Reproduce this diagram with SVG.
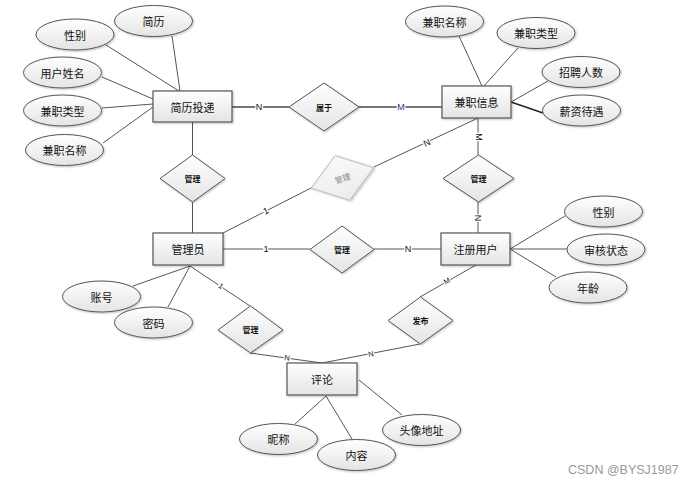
<svg xmlns="http://www.w3.org/2000/svg" width="696" height="483" viewBox="0 0 696 483">
<defs>
<linearGradient id="g" x1="0" y1="0" x2="0" y2="1"><stop offset="0" stop-color="#ffffff"/><stop offset="1" stop-color="#e4e4e4"/></linearGradient>
<linearGradient id="gg" x1="0" y1="0" x2="0" y2="1"><stop offset="0" stop-color="#fafafa"/><stop offset="1" stop-color="#ebebeb"/></linearGradient>
<filter id="sh" x="-20%" y="-20%" width="140%" height="150%"><feDropShadow dx="1" dy="1" stdDeviation="0.8" flood-color="#000" flood-opacity="0.25"/></filter>
</defs>
<style>
.ent rect{fill:url(#g);stroke:#555;stroke-width:1.2;filter:url(#sh)}
.att ellipse{fill:url(#g);stroke:#555;stroke-width:1;filter:url(#sh)}
.rel polygon{fill:url(#g);stroke:#555;stroke-width:1;filter:url(#sh)}
.t{font-family:"Noto Sans CJK SC","Liberation Sans",sans-serif;font-size:11px;fill:#111;text-anchor:middle;dominant-baseline:central}
.d{font-family:"Noto Sans CJK SC","Liberation Sans",sans-serif;font-size:8px;font-weight:bold;fill:#111;text-anchor:middle;dominant-baseline:central}
.c line{stroke:#555;stroke-width:1;fill:none}
.lb{font-family:"Liberation Sans",sans-serif;font-size:9px;fill:#111;text-anchor:middle;dominant-baseline:central;stroke:#fff;stroke-width:2.5;paint-order:stroke}
.sm{font-size:7.5px}
.wm{font-family:"Liberation Sans",sans-serif;font-size:12.5px;fill:#999}
</style>
<rect width="696" height="483" fill="#fff"/>
<g id="connectors" class="c">
<line x1="232" y1="107" x2="289" y2="107" style="stroke:#777;stroke-width:2"/>
<line x1="359" y1="107" x2="442" y2="107" style="stroke:#777;stroke-width:2"/>
<line x1="192.5" y1="122" x2="192.5" y2="155"/>
<line x1="192.5" y1="202" x2="192.5" y2="233"/>
<line x1="223" y1="233" x2="311" y2="188"/>
<line x1="374" y1="167" x2="478" y2="118"/>
<line x1="478" y1="118" x2="478" y2="155"/>
<line x1="478" y1="202" x2="478" y2="233"/>
<line x1="223" y1="249" x2="310" y2="249"/>
<line x1="374" y1="249" x2="441" y2="249"/>
<line x1="190" y1="266" x2="250" y2="306"/>
<line x1="250" y1="353" x2="322" y2="363"/>
<line x1="476" y1="265" x2="420" y2="297"/>
<line x1="420" y1="344" x2="322" y2="363"/>
<line x1="172" y1="36" x2="180" y2="91"/>
<line x1="106" y1="45" x2="179" y2="91"/>
<line x1="102" y1="77" x2="153" y2="99"/>
<line x1="102" y1="108" x2="153" y2="104"/>
<line x1="103" y1="143" x2="153" y2="107"/>
<line x1="459" y1="36" x2="482" y2="86"/>
<line x1="518" y1="48" x2="484" y2="86"/>
<line x1="548" y1="81" x2="511" y2="102"/>
<line x1="511" y1="102" x2="543" y2="113" style="stroke:#222;stroke-width:1.4"/>
<line x1="565" y1="216" x2="510" y2="249"/>
<line x1="510" y1="249" x2="567" y2="249"/>
<line x1="510" y1="249" x2="556" y2="277"/>
<line x1="133" y1="286" x2="190" y2="266"/>
<line x1="168" y1="307" x2="190" y2="266"/>
<line x1="295" y1="424" x2="326" y2="396"/>
<line x1="352" y1="439" x2="326" y2="396"/>
<line x1="402" y1="415" x2="359" y2="380"/>
<text class="lb" x="259" y="107">N</text>
<text class="lb" x="401" y="107" style="fill:#1f3a8a">M</text>
<text class="lb" x="266" y="211" transform="rotate(-27 266 211)">1</text>
<text class="lb" x="427" y="143" transform="rotate(-25 427 143)">N</text>
<text class="lb" x="479" y="137" transform="rotate(90 479 137)">M</text>
<text class="lb" x="478" y="218" transform="rotate(90 478 218)">N</text>
<text class="lb" x="266" y="249">1</text>
<text class="lb" x="408" y="249">N</text>
<text class="lb sm" x="221" y="286" transform="rotate(34 221 286)">1</text>
<text class="lb sm" x="447" y="281" transform="rotate(-30 447 281)">M</text>
<text class="lb sm" x="287" y="358" transform="rotate(8 287 358)">N</text>
<text class="lb sm" x="371" y="354" transform="rotate(-11 371 354)">N</text>
</g>
<g id="e-jianli" class="ent"><rect x="153" y="91" width="79" height="31"/><text class="t" x="192.5" y="106.5">简历投递</text></g>
<g id="e-jianzhi" class="ent"><rect x="442" y="86" width="69" height="32"/><text class="t" x="476.5" y="102">兼职信息</text></g>
<g id="e-admin" class="ent"><rect x="153" y="233" width="70" height="32"/><text class="t" x="188" y="249">管理员</text></g>
<g id="e-user" class="ent"><rect x="441" y="233" width="69" height="32"/><text class="t" x="475.5" y="249">注册用户</text></g>
<g id="e-comment" class="ent"><rect x="287" y="363" width="70" height="32"/><text class="t" x="322" y="379">评论</text></g>
<g id="r-shuyu" class="rel"><polygon points="289,107 324,83 359,107 324,131"/><text class="d" x="324" y="107">属于</text></g>
<g id="r-guanli1" class="rel"><polygon points="160,178.5 192.5,155 225,178.5 192.5,202"/><text class="d" x="192.5" y="178.5">管理</text></g>
<g id="r-guanli2" class="rel" transform="rotate(-18 342.5 178)"><polygon points="309.5,178 342.5,154.5 375.5,178 342.5,201.5" style="fill:url(#gg);stroke:#aaa"/><text class="d" x="342.5" y="178" style="fill:#888;font-weight:normal">管理</text></g>
<g id="r-guanli3" class="rel"><polygon points="443,178.5 478.5,155 514,178.5 478.5,202"/><text class="d" x="478.5" y="178.5">管理</text></g>
<g id="r-guanli4" class="rel"><polygon points="310,249.5 342,226 374,249.5 342,273"/><text class="d" x="342" y="249.5">管理</text></g>
<g id="r-guanli5" class="rel"><polygon points="218,330 250.5,306 283,330 250.5,353"/><text class="d" x="250.5" y="329.5">管理</text></g>
<g id="r-fabu" class="rel"><polygon points="388,320.5 420.5,297 453,320.5 420.5,344"/><text class="d" x="420.5" y="320.5">发布</text></g>
<g id="a-jianli" class="att"><ellipse cx="153.5" cy="21" rx="39" ry="15.5"/><text class="t" x="153.5" y="21">简历</text></g>
<g id="a-xingbie1" class="att"><ellipse cx="75" cy="34.5" rx="39" ry="15.5"/><text class="t" x="75" y="34.5">性别</text></g>
<g id="a-yonghu" class="att"><ellipse cx="62.5" cy="72.5" rx="39" ry="15.5"/><text class="t" x="62.5" y="72.5">用户姓名</text></g>
<g id="a-leixing1" class="att"><ellipse cx="62.5" cy="110.5" rx="39" ry="15.5"/><text class="t" x="62.5" y="110.5">兼职类型</text></g>
<g id="a-mingcheng1" class="att"><ellipse cx="64.5" cy="150" rx="39" ry="15.5"/><text class="t" x="64.5" y="150">兼职名称</text></g>
<g id="a-mingcheng2" class="att"><ellipse cx="444.5" cy="21.5" rx="39" ry="15.5"/><text class="t" x="444.5" y="21.5">兼职名称</text></g>
<g id="a-leixing2" class="att"><ellipse cx="536" cy="33" rx="39" ry="15.5"/><text class="t" x="536" y="33">兼职类型</text></g>
<g id="a-zhaopin" class="att"><ellipse cx="581" cy="72" rx="39" ry="15.5"/><text class="t" x="581" y="72">招聘人数</text></g>
<g id="a-xinzi" class="att"><ellipse cx="581.5" cy="110.5" rx="39" ry="15.5"/><text class="t" x="581.5" y="110.5">薪资待遇</text></g>
<g id="a-xingbie2" class="att"><ellipse cx="603.5" cy="211.5" rx="39" ry="15.5"/><text class="t" x="603.5" y="211.5">性别</text></g>
<g id="a-shenhe" class="att"><ellipse cx="606" cy="249.5" rx="39" ry="15.5"/><text class="t" x="606" y="249.5">审核状态</text></g>
<g id="a-nianling" class="att"><ellipse cx="588" cy="287.5" rx="39" ry="15.5"/><text class="t" x="588" y="287.5">年龄</text></g>
<g id="a-zhanghao" class="att"><ellipse cx="101.5" cy="296.5" rx="39" ry="15.5"/><text class="t" x="101.5" y="296.5">账号</text></g>
<g id="a-mima" class="att"><ellipse cx="153.5" cy="322.5" rx="39" ry="15.5"/><text class="t" x="153.5" y="322.5">密码</text></g>
<g id="a-nicheng" class="att"><ellipse cx="278.5" cy="439" rx="39" ry="15.5"/><text class="t" x="278.5" y="439">昵称</text></g>
<g id="a-neirong" class="att"><ellipse cx="356.5" cy="455" rx="39" ry="15.5"/><text class="t" x="356.5" y="455">内容</text></g>
<g id="a-touxiang" class="att"><ellipse cx="421.5" cy="430" rx="39" ry="15.5"/><text class="t" x="421.5" y="430">头像地址</text></g>
<text class="wm" x="568" y="474">CSDN @BYSJ1987</text>
</svg>
